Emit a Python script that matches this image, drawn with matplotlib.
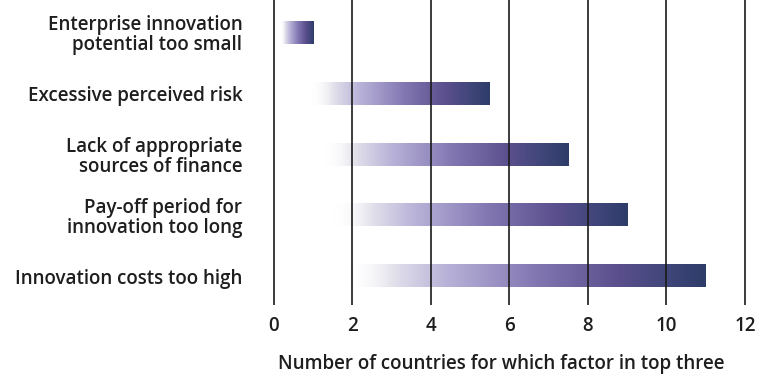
import numpy as np
import matplotlib
matplotlib.use("Agg")
import matplotlib.pyplot as plt
from matplotlib.colors import LinearSegmentedColormap

categories = [
    "Enterprise innovation\npotential too small",
    "Excessive perceived risk",
    "Lack of appropriate\nsources of finance",
    "Pay-off period for\ninnovation too long",
    "Innovation costs too high",
]
values = [1.0, 5.5, 7.5, 9.0, 11.0]
xticks = [0, 2, 4, 6, 8, 10, 12]
xlabel = "Number of countries for which factor in top three"

plt.rcParams["font.family"] = ["Open Sans", "DejaVu Sans"]

fig = plt.figure(figsize=(7.68, 3.76), dpi=100)
ax = fig.add_axes([0.3555, 0.189, 0.6155, 0.811])

# Gradient fill running from a faded left end to deep navy at the bar tip
bar_cmap = LinearSegmentedColormap.from_list(
    "barfade",
    [(0.00, (1, 1, 1, 0)),
     (0.17, (1, 1, 1, 0)),
     (0.28, "#e0dfea"),
     (0.40, "#b8b2d8"),
     (0.60, "#8478b3"),
     (0.80, "#5a4f8c"),
     (0.92, "#3e4578"),
     (1.00, "#2e3c69")],
)
grad = np.linspace(0, 1, 256).reshape(1, -1)
bar_h = 0.37

for i, v in enumerate(values):
    ax.imshow(grad, cmap=bar_cmap, aspect="auto", interpolation="bilinear",
              extent=[0, v, i + bar_h / 2, i - bar_h / 2], zorder=1)

for t in xticks:
    ax.axvline(t, color="#1a1a1a", lw=1.2, zorder=3)

ax.set_xlim(-0.02, 12.02)
ax.set_ylim(4.475, -0.54)
ax.set_yticks(range(len(categories)))
ax.set_yticklabels(categories, fontsize=13.5, fontweight="semibold",
                   color="#1e1e1e", linespacing=1.0)
ax.set_xticks(xticks)
ax.set_xticklabels([str(t) for t in xticks], fontsize=13.5,
                   fontweight="semibold", color="#1e1e1e")
ax.tick_params(axis="both", length=0)
ax.tick_params(axis="y", pad=22)
ax.tick_params(axis="x", pad=8)
ax.set_xlabel(xlabel, fontsize=13.5, fontweight="semibold",
              color="#1e1e1e")
ax.xaxis.set_label_coords(0.483, -0.16)
for s in ax.spines.values():
    s.set_visible(False)

fig.savefig("out.png", dpi=100)
